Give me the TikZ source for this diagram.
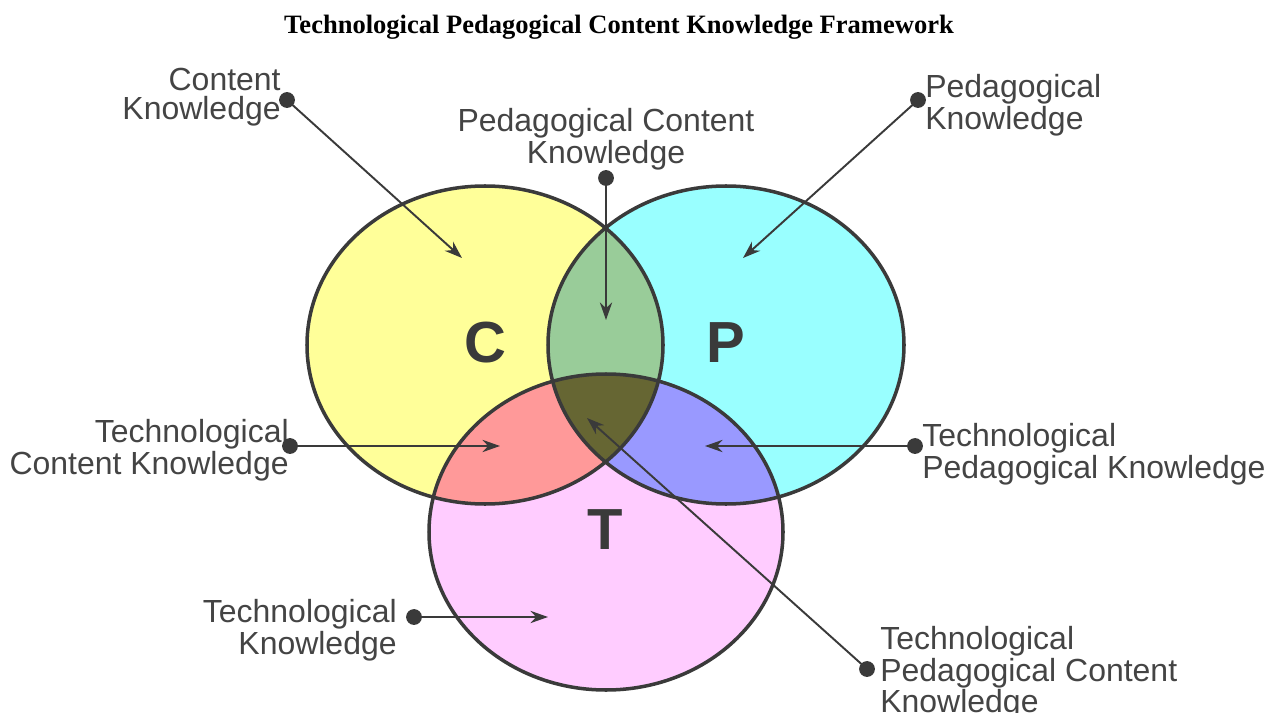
\documentclass[tikz,border=0pt]{standalone}
\usepackage{fontspec}
\setmainfont{Liberation Sans}
\newfontfamily\titlefont{Liberation Serif}
\usetikzlibrary{arrows.meta}

\definecolor{cyellow}{HTML}{FFFF99}
\definecolor{pcyan}{HTML}{99FFFF}
\definecolor{tpink}{HTML}{FFCCFF}
\definecolor{cpgreen}{HTML}{99CC99}
\definecolor{ctred}{HTML}{FF9999}
\definecolor{ptblue}{HTML}{9999FF}
\definecolor{cptolive}{HTML}{666633}
\definecolor{inkgray}{HTML}{3A3A3A}
\definecolor{textgray}{HTML}{444444}

% the three knowledge domains
\newcommand\cdomain{(485,345) ellipse [x radius=178, y radius=159]}
\newcommand\pdomain{(726,345) ellipse [x radius=178, y radius=159]}
\newcommand\tdomain{(606,532) ellipse [x radius=177, y radius=158]}

\tikzset{
  knowtext/.style={text=textgray, font=\fontsize{18.2}{16.4}\selectfont, inner sep=0pt},
  bigletter/.style={text=inkgray, font=\fontsize{33}{33}\selectfont\bfseries},
  pin dot/.style={circle, fill=inkgray, inner sep=0pt, minimum size=9pt},
  pointer/.style={draw=inkgray, line width=1.1pt, -{Stealth[length=10pt,width=7pt]}},
  rim/.style={draw=inkgray, line width=2pt}
}

\begin{document}
\begin{tikzpicture}[x=0.02cm, y=-0.02cm]
  \useasboundingbox (0,0) rectangle (1268,713);

    % Title
  \node[font=\titlefont\bfseries\fontsize{15.1}{15}\selectfont] (title) at (619,27)
    {Technological Pedagogical Content Knowledge Framework};

    % Fill the domains
  \fill[cyellow] \cdomain;
  \fill[pcyan] \pdomain;
  \fill[tpink] \tdomain;

    % Overlaps of two domains
  \begin{scope}
    \clip \cdomain;
    \fill[cpgreen] \pdomain;
    \fill[ctred] \tdomain;
  \end{scope}
  \begin{scope}
    \clip \pdomain;
    \fill[ptblue] \tdomain;
  \end{scope}

    % Overlap of all three
  \begin{scope}
    \clip \cdomain;
    \clip \pdomain;
    \fill[cptolive] \tdomain;
  \end{scope}

    % Outlines
  \draw[rim] \cdomain;
  \draw[rim] \pdomain;
  \draw[rim] \tdomain;

    % Domain letters
  \node[bigletter] (cletter) at (485,343) {C};
  \node[bigletter] (pletter) at (726,343) {P};
  \node[bigletter] (tletter) at (605,530) {T};

    % Labels
  \node[knowtext, anchor=east, align=right] (cklabel) at (281,97) {Content\\Knowledge};
  \node[knowtext, align=center] (pcklabel) at (606,139) {Pedagogical Content\\Knowledge};
  \node[knowtext, anchor=west, align=left] (pklabel) at (925,105) {Pedagogical\\Knowledge};
  \node[knowtext, anchor=east, align=right] (tcklabel) at (289,450) {Technological\\Content Knowledge};
  \node[knowtext, anchor=west, align=left] (tpklabel) at (922,454) {Technological\\Pedagogical Knowledge};
  \node[knowtext, anchor=east, align=right] (tklabel) at (397,630) {Technological\\Knowledge};
  \node[knowtext, anchor=west, align=left] (tpcklabel) at (880,673) {Technological\\Pedagogical Content\\Knowledge};

    % Pin dots
  \node[pin dot] (ckdot) at (287,100) {};
  \node[pin dot] (pckdot) at (606,178) {};
  \node[pin dot] (pkdot) at (918,100) {};
  \node[pin dot] (tckdot) at (290,446) {};
  \node[pin dot] (tpkdot) at (915,446) {};
  \node[pin dot] (tkdot) at (414,617) {};
  \node[pin dot] (tpckdot) at (867,669) {};

    % Arrow targets
  \coordinate (cktip) at (462,258);
  \coordinate (pcktip) at (606,320);
  \coordinate (pktip) at (743,258);
  \coordinate (tcktip) at (500,446);
  \coordinate (tpktip) at (705,446);
  \coordinate (tktip) at (548,617);
  \coordinate (tpcktip) at (587,418);

    % Pointers
  \draw[pointer] (ckdot.center) -- (cktip);
  \draw[pointer] (pckdot.center) -- (pcktip);
  \draw[pointer] (pkdot.center) -- (pktip);
  \draw[pointer] (tckdot.center) -- (tcktip);
  \draw[pointer] (tpkdot.center) -- (tpktip);
  \draw[pointer] (tkdot.center) -- (tktip);
  \draw[pointer] (tpckdot.center) -- (tpcktip);
\end{tikzpicture}
\end{document}
